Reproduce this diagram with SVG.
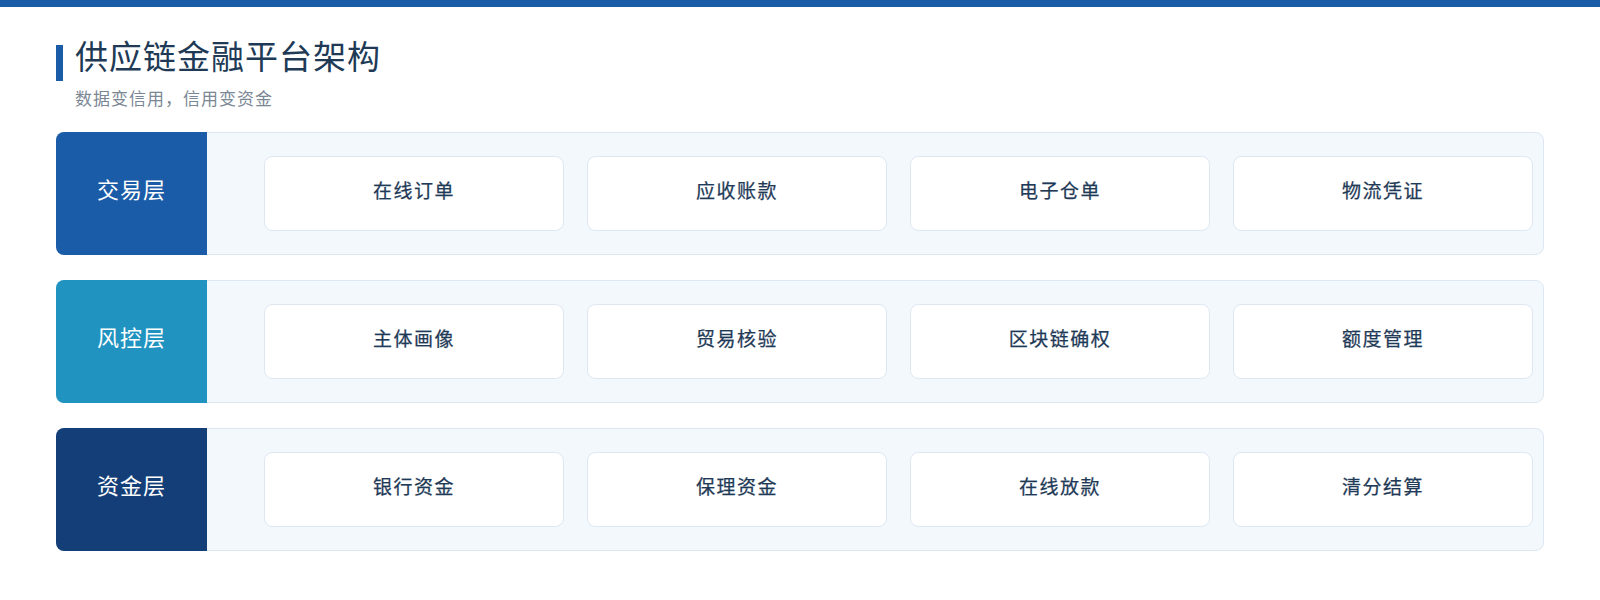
<svg xmlns="http://www.w3.org/2000/svg" width="1600" height="600" viewBox="0 0 1600 600">
<style>
.bg{fill:#ffffff}
.topbar{fill:#1b5ca8}
.title{font-family:"Noto Sans CJK SC","Noto Sans",sans-serif;font-size:33px;fill:#203a56;letter-spacing:1px}
.sub{font-family:"Noto Sans CJK SC","Noto Sans",sans-serif;font-size:17px;fill:#7b8794;letter-spacing:1px}
.panel{fill:#f3f8fc;stroke:#dce7f1;stroke-width:1}
.lbl{font-family:"Noto Sans CJK SC","Noto Sans",sans-serif;font-size:22px;fill:#ffffff;text-anchor:middle;dominant-baseline:central;letter-spacing:1px}
.card{fill:#ffffff;stroke:#dde7f1;stroke-width:1}
.ct{font-family:"Noto Sans CJK SC","Noto Sans",sans-serif;font-size:19px;font-weight:400;fill:#1f3a57;text-anchor:middle;dominant-baseline:central;letter-spacing:1.5px;stroke:#1f3a57;stroke-width:0.25px}
</style>
<rect class="bg" x="0" y="0" width="1600" height="600"/>
<rect class="topbar" x="0" y="0" width="1600" height="7"/>
<g id="header">
<rect x="56" y="45" width="7" height="36" fill="#1b5ca8"/>
<text class="title" x="75" y="68.5">供应链金融平台架构</text>
<text class="sub" x="75" y="105">数据变信用，信用变资金</text>
</g>
<g id="connectors"></g>
<g id="layer-trade">
<rect class="panel" x="56.5" y="132.5" width="1487" height="122" rx="8"/>
<path d="M64,132 H207 V255 H64 A8,8 0 0 1 56,247 V140 A8,8 0 0 1 64,132 Z" fill="#1b5ca8"/>
<text class="lbl" x="131.5" y="188">交易层</text>
<g id="n-order"><rect class="card" x="264.5" y="156.5" width="299" height="74" rx="8"/><text class="ct" x="414" y="189.5">在线订单</text></g>
<g id="n-recv"><rect class="card" x="587.5" y="156.5" width="299" height="74" rx="8"/><text class="ct" x="737" y="189.5">应收账款</text></g>
<g id="n-wh"><rect class="card" x="910.5" y="156.5" width="299" height="74" rx="8"/><text class="ct" x="1060" y="189.5">电子仓单</text></g>
<g id="n-logi"><rect class="card" x="1233.5" y="156.5" width="299" height="74" rx="8"/><text class="ct" x="1383" y="189.5">物流凭证</text></g>
</g>
<g id="layer-risk">
<rect class="panel" x="56.5" y="280.5" width="1487" height="122" rx="8"/>
<path d="M64,280 H207 V403 H64 A8,8 0 0 1 56,395 V288 A8,8 0 0 1 64,280 Z" fill="#2193c0"/>
<text class="lbl" x="131.5" y="336">风控层</text>
<g id="n-profile"><rect class="card" x="264.5" y="304.5" width="299" height="74" rx="8"/><text class="ct" x="414" y="337.5">主体画像</text></g>
<g id="n-verify"><rect class="card" x="587.5" y="304.5" width="299" height="74" rx="8"/><text class="ct" x="737" y="337.5">贸易核验</text></g>
<g id="n-chain"><rect class="card" x="910.5" y="304.5" width="299" height="74" rx="8"/><text class="ct" x="1060" y="337.5">区块链确权</text></g>
<g id="n-quota"><rect class="card" x="1233.5" y="304.5" width="299" height="74" rx="8"/><text class="ct" x="1383" y="337.5">额度管理</text></g>
</g>
<g id="layer-fund">
<rect class="panel" x="56.5" y="428.5" width="1487" height="122" rx="8"/>
<path d="M64,428 H207 V551 H64 A8,8 0 0 1 56,543 V436 A8,8 0 0 1 64,428 Z" fill="#143e78"/>
<text class="lbl" x="131.5" y="484">资金层</text>
<g id="n-bank"><rect class="card" x="264.5" y="452.5" width="299" height="74" rx="8"/><text class="ct" x="414" y="485.5">银行资金</text></g>
<g id="n-factor"><rect class="card" x="587.5" y="452.5" width="299" height="74" rx="8"/><text class="ct" x="737" y="485.5">保理资金</text></g>
<g id="n-loan"><rect class="card" x="910.5" y="452.5" width="299" height="74" rx="8"/><text class="ct" x="1060" y="485.5">在线放款</text></g>
<g id="n-settle"><rect class="card" x="1233.5" y="452.5" width="299" height="74" rx="8"/><text class="ct" x="1383" y="485.5">清分结算</text></g>
</g>
</svg>
